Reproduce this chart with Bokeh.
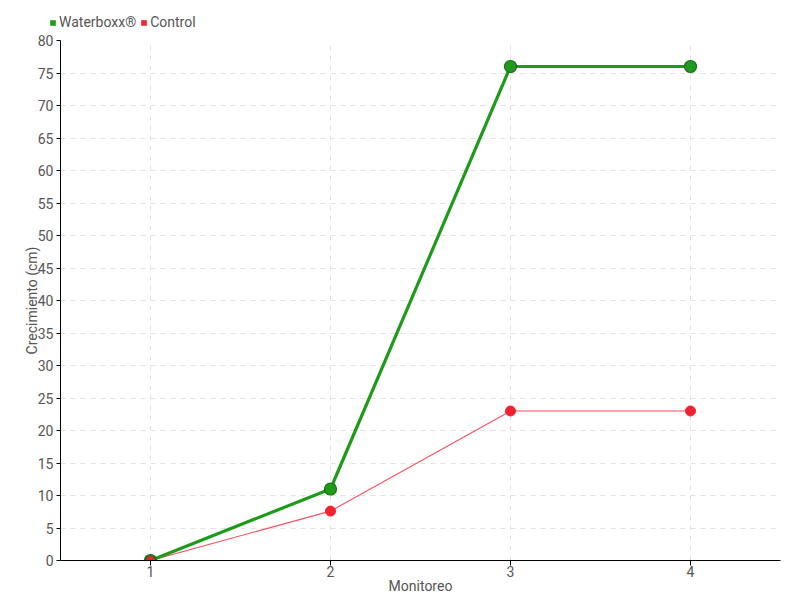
from bokeh.plotting import figure
from bokeh.layouts import column
from bokeh.models import Range1d, FixedTicker, Legend, LegendItem, ColumnDataSource
from bokeh.embed import file_html
from bokeh.resources import INLINE

monitoreo = [1, 2, 3, 4]
waterboxx = [0, 11, 76, 76]
control = [0, 7.6, 23, 23]
y_ticks = list(range(0, 85, 5))
series_names = ["Waterboxx®", "Control"]

FONT = "Roboto"
TXT = "#555555"
GREEN = "#1f9a1a"
GREEN_DARK = "#17731a"
RED = "#f0222f"

p = figure(width=792, height=568, output_backend="svg", toolbar_location=None,
           x_range=Range1d(0.5, 4.5), y_range=Range1d(0, 80),
           min_border_left=60, min_border_right=12, min_border_top=8, min_border_bottom=40)
p.outline_line_color = None
p.frame_align = False

for ax in (p.xaxis[0], p.yaxis[0]):
    ax.major_label_text_font = FONT
    ax.major_label_text_font_size = "14px"
    ax.major_label_text_color = TXT
    ax.axis_label_text_font = FONT
    ax.axis_label_text_font_size = "14px"
    ax.axis_label_text_color = TXT
    ax.axis_label_text_font_style = "normal"
    ax.axis_line_color = "black"
    ax.major_tick_line_color = "black"
    ax.minor_tick_line_color = None
    ax.major_tick_in = 0

p.xaxis.major_tick_out = 5
p.yaxis.major_tick_out = 4
p.xaxis.ticker = FixedTicker(ticks=monitoreo)
p.yaxis.ticker = FixedTicker(ticks=y_ticks)
p.xaxis.axis_label = "Monitoreo"
p.yaxis.axis_label = "Crecimiento (cm)"
p.xaxis.axis_label_standoff = -2
p.yaxis.axis_label_standoff = -5
p.xaxis.major_label_standoff = 0
p.yaxis.major_label_standoff = 3

for g in (p.xgrid[0], p.ygrid[0]):
    g.grid_line_color = "#e2e2e2"
    g.grid_line_dash = "5 5"
    g.grid_line_width = 1

p.line(monitoreo, control, line_color=RED, line_width=1.1, line_alpha=0.8)
p.scatter(monitoreo, control, size=10, fill_color=RED, line_color=RED)
p.line(monitoreo, waterboxx, line_color=GREEN, line_width=3.2)
p.scatter(monitoreo, waterboxx, size=12, fill_color=GREEN, line_color=GREEN_DARK, line_width=1.2)
p.scatter([monitoreo[0]], [control[0]], size=10, fill_color=RED, line_color=GREEN_DARK, line_width=1.2)

# legend strip above the chart
lf = figure(width=792, height=32, output_backend="svg", toolbar_location=None,
            x_range=Range1d(0, 1), y_range=Range1d(0, 1),
            x_axis_location=None, y_axis_location=None,
            min_border_left=0, min_border_right=0, min_border_top=0, min_border_bottom=0)
lf.outline_line_color = None
lf.frame_align = False
lf.xgrid.visible = False
lf.ygrid.visible = False
proxy = ColumnDataSource(data=dict(l=[float("nan")], r=[float("nan")],
                                   b=[float("nan")], t=[float("nan")]))
q_w = lf.quad(left="l", right="r", bottom="b", top="t", source=proxy, fill_color=GREEN, line_color=None)
q_c = lf.quad(left="l", right="r", bottom="b", top="t", source=proxy, fill_color=RED, line_color=None)

legend = Legend(items=[LegendItem(label=series_names[0], renderers=[q_w]),
                       LegendItem(label=series_names[1], renderers=[q_c])],
                location=(49, 2), orientation="horizontal",
                glyph_width=7, glyph_height=7, label_standoff=3, spacing=4,
                padding=0, margin=0, label_height=16,
                label_text_font=FONT, label_text_font_size="14px", label_text_color=TXT,
                border_line_alpha=0, background_fill_alpha=0)
lf.add_layout(legend, "center")

layout = column(lf, p, spacing=0)
open("out.html", "w").write(file_html(layout, INLINE))
